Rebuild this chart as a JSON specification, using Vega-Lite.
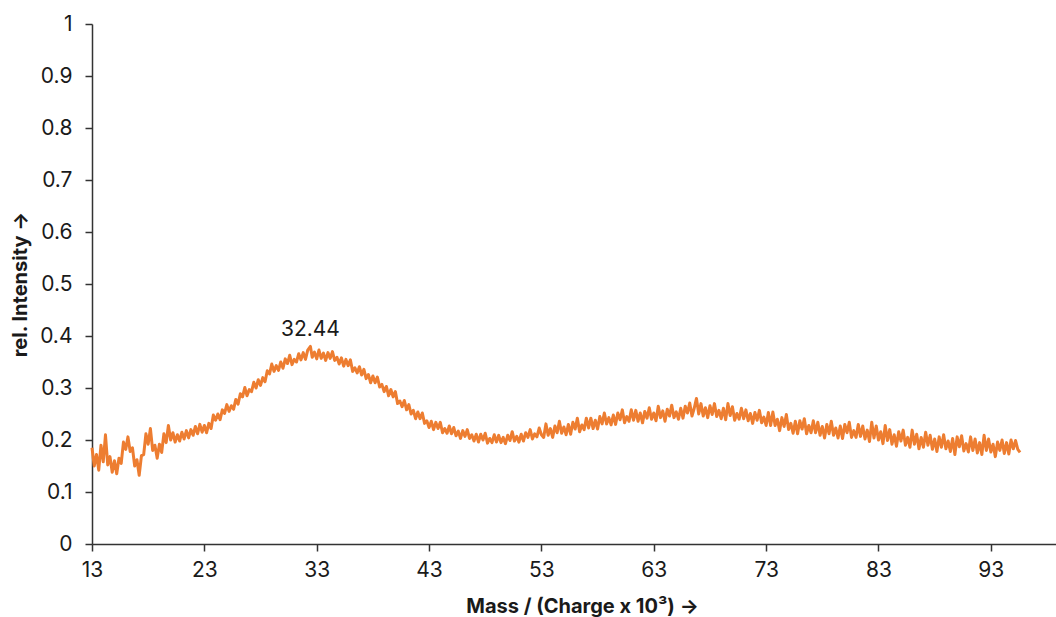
{
  "$schema": "https://vega.github.io/schema/vega-lite/v6.json",
  "width": 964,
  "height": 520,
  "autosize": {"type": "none"},
  "padding": {"left": 92, "top": 24, "right": 0, "bottom": 73},
  "background": "white",
  "config": {
    "view": {"stroke": null},
    "font": "Inter",
    "axis": {
      "grid": false,
      "domainColor": "#333333",
      "domainWidth": 1.5,
      "tickColor": "#333333",
      "tickWidth": 1.5,
      "tickSize": 7,
      "labelFont": "Inter",
      "labelFontSize": 21,
      "labelColor": "#1a1a1a",
      "labelFlush": false,
      "titleFont": "Inter",
      "titleFontSize": 20,
      "titleFontWeight": "bold",
      "titleColor": "#1a1a1a"
    }
  },
  "datasets": {
    "spectrum": [
      {"m":13.0,"i":0.185},{"m":13.2,"i":0.150},{"m":13.4,"i":0.172},{"m":13.6,"i":0.142},{"m":13.8,"i":0.190},
      {"m":14.0,"i":0.158},{"m":14.2,"i":0.210},{"m":14.4,"i":0.152},{"m":14.6,"i":0.168},{"m":14.8,"i":0.138},
      {"m":15.0,"i":0.160},{"m":15.2,"i":0.135},{"m":15.4,"i":0.165},{"m":15.6,"i":0.155},{"m":15.8,"i":0.196},
      {"m":16.0,"i":0.182},{"m":16.2,"i":0.206},{"m":16.4,"i":0.178},{"m":16.6,"i":0.185},{"m":16.8,"i":0.150},
      {"m":17.0,"i":0.162},{"m":17.2,"i":0.132},{"m":17.4,"i":0.170},{"m":17.6,"i":0.172},{"m":17.8,"i":0.212},
      {"m":18.0,"i":0.192},{"m":18.2,"i":0.222},{"m":18.4,"i":0.180},{"m":18.6,"i":0.190},{"m":18.8,"i":0.165},
      {"m":19.0,"i":0.192},{"m":19.2,"i":0.176},{"m":19.4,"i":0.212},{"m":19.6,"i":0.195},{"m":19.8,"i":0.228},
      {"m":20.0,"i":0.200},{"m":20.2,"i":0.214},{"m":20.4,"i":0.196},{"m":20.6,"i":0.210},{"m":20.8,"i":0.198},
      {"m":21.0,"i":0.215},{"m":21.2,"i":0.202},{"m":21.4,"i":0.218},{"m":21.6,"i":0.204},{"m":21.8,"i":0.220},
      {"m":22.0,"i":0.209},{"m":22.2,"i":0.226},{"m":22.4,"i":0.212},{"m":22.6,"i":0.230},{"m":22.8,"i":0.215},
      {"m":23.0,"i":0.228},{"m":23.2,"i":0.214},{"m":23.4,"i":0.232},{"m":23.6,"i":0.222},{"m":23.8,"i":0.248},
      {"m":24.0,"i":0.238},{"m":24.2,"i":0.250},{"m":24.4,"i":0.239},{"m":24.6,"i":0.258},{"m":24.8,"i":0.251},
      {"m":25.0,"i":0.268},{"m":25.2,"i":0.255},{"m":25.4,"i":0.266},{"m":25.6,"i":0.259},{"m":25.8,"i":0.278},
      {"m":26.0,"i":0.269},{"m":26.2,"i":0.289},{"m":26.4,"i":0.283},{"m":26.6,"i":0.301},{"m":26.8,"i":0.285},
      {"m":27.0,"i":0.297},{"m":27.2,"i":0.293},{"m":27.4,"i":0.311},{"m":27.6,"i":0.300},{"m":27.8,"i":0.316},
      {"m":28.0,"i":0.305},{"m":28.2,"i":0.320},{"m":28.4,"i":0.312},{"m":28.6,"i":0.333},{"m":28.8,"i":0.327},
      {"m":29.0,"i":0.346},{"m":29.2,"i":0.332},{"m":29.4,"i":0.343},{"m":29.6,"i":0.334},{"m":29.8,"i":0.350},
      {"m":30.0,"i":0.338},{"m":30.2,"i":0.356},{"m":30.4,"i":0.347},{"m":30.6,"i":0.363},{"m":30.8,"i":0.345},
      {"m":31.0,"i":0.355},{"m":31.2,"i":0.350},{"m":31.4,"i":0.366},{"m":31.6,"i":0.354},{"m":31.8,"i":0.368},
      {"m":32.0,"i":0.355},{"m":32.2,"i":0.373},{"m":32.44,"i":0.380},{"m":32.6,"i":0.359},{"m":32.8,"i":0.369},
      {"m":33.0,"i":0.356},{"m":33.2,"i":0.373},{"m":33.4,"i":0.357},{"m":33.6,"i":0.367},{"m":33.8,"i":0.353},
      {"m":34.0,"i":0.368},{"m":34.2,"i":0.357},{"m":34.4,"i":0.370},{"m":34.6,"i":0.353},{"m":34.8,"i":0.359},
      {"m":35.0,"i":0.346},{"m":35.2,"i":0.358},{"m":35.4,"i":0.342},{"m":35.6,"i":0.355},{"m":35.8,"i":0.343},
      {"m":36.0,"i":0.354},{"m":36.2,"i":0.332},{"m":36.4,"i":0.339},{"m":36.6,"i":0.329},{"m":36.8,"i":0.341},
      {"m":37.0,"i":0.325},{"m":37.2,"i":0.336},{"m":37.4,"i":0.318},{"m":37.6,"i":0.326},{"m":37.8,"i":0.310},
      {"m":38.0,"i":0.323},{"m":38.2,"i":0.310},{"m":38.4,"i":0.321},{"m":38.6,"i":0.302},{"m":38.8,"i":0.307},
      {"m":39.0,"i":0.293},{"m":39.2,"i":0.303},{"m":39.4,"i":0.285},{"m":39.6,"i":0.297},{"m":39.8,"i":0.283},
      {"m":40.0,"i":0.293},{"m":40.2,"i":0.270},{"m":40.4,"i":0.275},{"m":40.6,"i":0.264},{"m":40.8,"i":0.276},
      {"m":41.0,"i":0.258},{"m":41.2,"i":0.268},{"m":41.4,"i":0.250},{"m":41.6,"i":0.257},{"m":41.8,"i":0.241},
      {"m":42.0,"i":0.254},{"m":42.2,"i":0.241},{"m":42.4,"i":0.252},{"m":42.6,"i":0.232},{"m":42.8,"i":0.237},
      {"m":43.0,"i":0.224},{"m":43.2,"i":0.236},{"m":43.4,"i":0.220},{"m":43.6,"i":0.234},{"m":43.8,"i":0.222},
      {"m":44.0,"i":0.234},{"m":44.2,"i":0.214},{"m":44.4,"i":0.222},{"m":44.6,"i":0.213},{"m":44.8,"i":0.227},
      {"m":45.0,"i":0.212},{"m":45.2,"i":0.224},{"m":45.4,"i":0.208},{"m":45.6,"i":0.217},{"m":45.8,"i":0.203},
      {"m":46.0,"i":0.218},{"m":46.2,"i":0.207},{"m":46.4,"i":0.220},{"m":46.6,"i":0.203},{"m":46.8,"i":0.210},
      {"m":47.0,"i":0.198},{"m":47.2,"i":0.211},{"m":47.4,"i":0.196},{"m":47.6,"i":0.211},{"m":47.8,"i":0.200},
      {"m":48.0,"i":0.213},{"m":48.2,"i":0.194},{"m":48.4,"i":0.203},{"m":48.6,"i":0.195},{"m":48.8,"i":0.210},
      {"m":49.0,"i":0.196},{"m":49.2,"i":0.209},{"m":49.4,"i":0.195},{"m":49.6,"i":0.205},{"m":49.8,"i":0.193},
      {"m":50.0,"i":0.209},{"m":50.2,"i":0.199},{"m":50.4,"i":0.216},{"m":50.6,"i":0.198},{"m":50.8,"i":0.207},
      {"m":51.0,"i":0.196},{"m":51.2,"i":0.211},{"m":51.4,"i":0.198},{"m":51.6,"i":0.214},{"m":51.8,"i":0.205},
      {"m":52.0,"i":0.220},{"m":52.2,"i":0.202},{"m":52.4,"i":0.212},{"m":52.6,"i":0.206},{"m":52.8,"i":0.223},
      {"m":53.0,"i":0.210},{"m":53.2,"i":0.205},{"m":53.4,"i":0.231},{"m":53.6,"i":0.209},{"m":53.8,"i":0.222},
      {"m":54.0,"i":0.205},{"m":54.2,"i":0.227},{"m":54.4,"i":0.214},{"m":54.6,"i":0.236},{"m":54.8,"i":0.213},
      {"m":55.0,"i":0.225},{"m":55.2,"i":0.210},{"m":55.4,"i":0.230},{"m":55.6,"i":0.211},{"m":55.8,"i":0.234},
      {"m":56.0,"i":0.221},{"m":56.2,"i":0.242},{"m":56.4,"i":0.216},{"m":56.6,"i":0.229},{"m":56.8,"i":0.220},
      {"m":57.0,"i":0.242},{"m":57.2,"i":0.223},{"m":57.4,"i":0.242},{"m":57.6,"i":0.222},{"m":57.8,"i":0.238},
      {"m":58.0,"i":0.221},{"m":58.2,"i":0.245},{"m":58.4,"i":0.231},{"m":58.6,"i":0.252},{"m":58.8,"i":0.231},
      {"m":59.0,"i":0.243},{"m":59.2,"i":0.229},{"m":59.4,"i":0.248},{"m":59.6,"i":0.230},{"m":59.8,"i":0.252},
      {"m":60.0,"i":0.239},{"m":60.2,"i":0.258},{"m":60.4,"i":0.233},{"m":60.6,"i":0.245},{"m":60.8,"i":0.236},
      {"m":61.0,"i":0.258},{"m":61.2,"i":0.238},{"m":61.4,"i":0.257},{"m":61.6,"i":0.236},{"m":61.8,"i":0.252},
      {"m":62.0,"i":0.233},{"m":62.2,"i":0.255},{"m":62.4,"i":0.242},{"m":62.6,"i":0.262},{"m":62.8,"i":0.240},
      {"m":63.0,"i":0.252},{"m":63.2,"i":0.237},{"m":63.4,"i":0.265},{"m":63.6,"i":0.243},{"m":63.8,"i":0.256},
      {"m":64.0,"i":0.236},{"m":64.2,"i":0.259},{"m":64.4,"i":0.246},{"m":64.6,"i":0.267},{"m":64.8,"i":0.243},
      {"m":65.0,"i":0.254},{"m":65.2,"i":0.240},{"m":65.4,"i":0.261},{"m":65.6,"i":0.242},{"m":65.8,"i":0.265},
      {"m":66.0,"i":0.252},{"m":66.2,"i":0.271},{"m":66.4,"i":0.246},{"m":66.6,"i":0.261},{"m":66.8,"i":0.280},
      {"m":67.0,"i":0.250},{"m":67.2,"i":0.270},{"m":67.4,"i":0.246},{"m":67.6,"i":0.262},{"m":67.8,"i":0.243},
      {"m":68.0,"i":0.266},{"m":68.2,"i":0.249},{"m":68.4,"i":0.270},{"m":68.6,"i":0.245},{"m":68.8,"i":0.257},
      {"m":69.0,"i":0.241},{"m":69.2,"i":0.261},{"m":69.4,"i":0.239},{"m":69.6,"i":0.270},{"m":69.8,"i":0.247},
      {"m":70.0,"i":0.264},{"m":70.2,"i":0.238},{"m":70.4,"i":0.251},{"m":70.6,"i":0.240},{"m":70.8,"i":0.261},
      {"m":71.0,"i":0.241},{"m":71.2,"i":0.258},{"m":71.4,"i":0.237},{"m":71.6,"i":0.251},{"m":71.8,"i":0.232},
      {"m":72.0,"i":0.253},{"m":72.2,"i":0.238},{"m":72.4,"i":0.257},{"m":72.6,"i":0.233},{"m":72.8,"i":0.244},
      {"m":73.0,"i":0.228},{"m":73.2,"i":0.253},{"m":73.4,"i":0.228},{"m":73.6,"i":0.254},{"m":73.8,"i":0.228},
      {"m":74.0,"i":0.240},{"m":74.2,"i":0.218},{"m":74.4,"i":0.243},{"m":74.6,"i":0.226},{"m":74.8,"i":0.249},
      {"m":75.0,"i":0.220},{"m":75.2,"i":0.232},{"m":75.4,"i":0.213},{"m":75.6,"i":0.236},{"m":75.8,"i":0.212},
      {"m":76.0,"i":0.237},{"m":76.2,"i":0.221},{"m":76.4,"i":0.241},{"m":76.6,"i":0.212},{"m":76.8,"i":0.228},
      {"m":77.0,"i":0.214},{"m":77.2,"i":0.237},{"m":77.4,"i":0.214},{"m":77.6,"i":0.234},{"m":77.8,"i":0.209},
      {"m":78.0,"i":0.226},{"m":78.2,"i":0.204},{"m":78.4,"i":0.230},{"m":78.6,"i":0.212},{"m":78.8,"i":0.236},
      {"m":79.0,"i":0.209},{"m":79.2,"i":0.223},{"m":79.4,"i":0.204},{"m":79.6,"i":0.227},{"m":79.8,"i":0.203},
      {"m":80.0,"i":0.230},{"m":80.2,"i":0.214},{"m":80.4,"i":0.234},{"m":80.6,"i":0.205},{"m":80.8,"i":0.218},
      {"m":81.0,"i":0.205},{"m":81.2,"i":0.230},{"m":81.4,"i":0.207},{"m":81.6,"i":0.227},{"m":81.8,"i":0.202},
      {"m":82.0,"i":0.219},{"m":82.2,"i":0.197},{"m":82.4,"i":0.234},{"m":82.6,"i":0.204},{"m":82.8,"i":0.227},
      {"m":83.0,"i":0.200},{"m":83.2,"i":0.216},{"m":83.4,"i":0.193},{"m":83.6,"i":0.228},{"m":83.8,"i":0.199},
      {"m":84.0,"i":0.220},{"m":84.2,"i":0.192},{"m":84.4,"i":0.210},{"m":84.6,"i":0.188},{"m":84.8,"i":0.216},
      {"m":85.0,"i":0.198},{"m":85.2,"i":0.219},{"m":85.4,"i":0.190},{"m":85.6,"i":0.205},{"m":85.8,"i":0.186},
      {"m":86.0,"i":0.219},{"m":86.2,"i":0.192},{"m":86.4,"i":0.211},{"m":86.6,"i":0.183},{"m":86.8,"i":0.205},
      {"m":87.0,"i":0.186},{"m":87.2,"i":0.215},{"m":87.4,"i":0.190},{"m":87.6,"i":0.209},{"m":87.8,"i":0.182},
      {"m":88.0,"i":0.202},{"m":88.2,"i":0.178},{"m":88.4,"i":0.206},{"m":88.6,"i":0.186},{"m":88.8,"i":0.210},
      {"m":89.0,"i":0.183},{"m":89.2,"i":0.198},{"m":89.4,"i":0.178},{"m":89.6,"i":0.203},{"m":89.8,"i":0.172},
      {"m":90.0,"i":0.206},{"m":90.2,"i":0.187},{"m":90.4,"i":0.208},{"m":90.6,"i":0.179},{"m":90.8,"i":0.193},
      {"m":91.0,"i":0.177},{"m":91.2,"i":0.206},{"m":91.4,"i":0.180},{"m":91.6,"i":0.202},{"m":91.8,"i":0.175},
      {"m":92.0,"i":0.195},{"m":92.2,"i":0.172},{"m":92.4,"i":0.209},{"m":92.6,"i":0.180},{"m":92.8,"i":0.202},
      {"m":93.0,"i":0.177},{"m":93.2,"i":0.192},{"m":93.4,"i":0.168},{"m":93.6,"i":0.196},{"m":93.8,"i":0.180},
      {"m":94.0,"i":0.200},{"m":94.2,"i":0.174},{"m":94.4,"i":0.195},{"m":94.6,"i":0.173},{"m":94.8,"i":0.200},
      {"m":95.0,"i":0.183},{"m":95.2,"i":0.199},{"m":95.4,"i":0.182},{"m":95.6,"i":0.176}
    ],
    "peak": [
      {"m": 32.44, "i": 0.380}
    ]
  },
  "layer": [
    {
      "data": {"name": "spectrum"},
      "mark": {"type": "line", "color": "#ED7D31", "strokeWidth": 3, "strokeJoin": "round", "clip": false},
      "encoding": {
        "x": {
          "field": "m",
          "type": "quantitative",
          "scale": {"domain": [13, 98.8], "nice": false, "zero": false},
          "axis": {
            "values": [13, 23, 33, 43, 53, 63, 73, 83, 93],
            "format": "d",
            "labelPadding": 8,
            "title": "Mass / (Charge x 10³) →",
            "titleX": 490,
            "titleY": 68,
            "titleAlign": "center",
            "titleAnchor": null,
            "titleBaseline": "alphabetic"
          }
        },
        "y": {
          "field": "i",
          "type": "quantitative",
          "scale": {"domain": [0, 1], "nice": false},
          "axis": {
            "values": [0, 0.1, 0.2, 0.3, 0.4, 0.5, 0.6, 0.7, 0.8, 0.9, 1],
            "format": "~g",
            "labelPadding": 13,
            "title": "rel. Intensity →",
            "titleX": -72,
            "titleY": 260,
            "titleAngle": -90,
            "titleAlign": "center",
            "titleAnchor": null,
            "titleBaseline": "middle"
          }
        }
      }
    },
    {
      "data": {"name": "peak"},
      "mark": {"type": "text", "fontSize": 21, "font": "Inter", "color": "#1a1a1a", "baseline": "alphabetic", "align": "center", "dy": -10},
      "encoding": {
        "x": {"field": "m", "type": "quantitative"},
        "y": {"field": "i", "type": "quantitative"},
        "text": {"field": "m", "type": "quantitative", "format": ".2f"}
      }
    }
  ]
}
